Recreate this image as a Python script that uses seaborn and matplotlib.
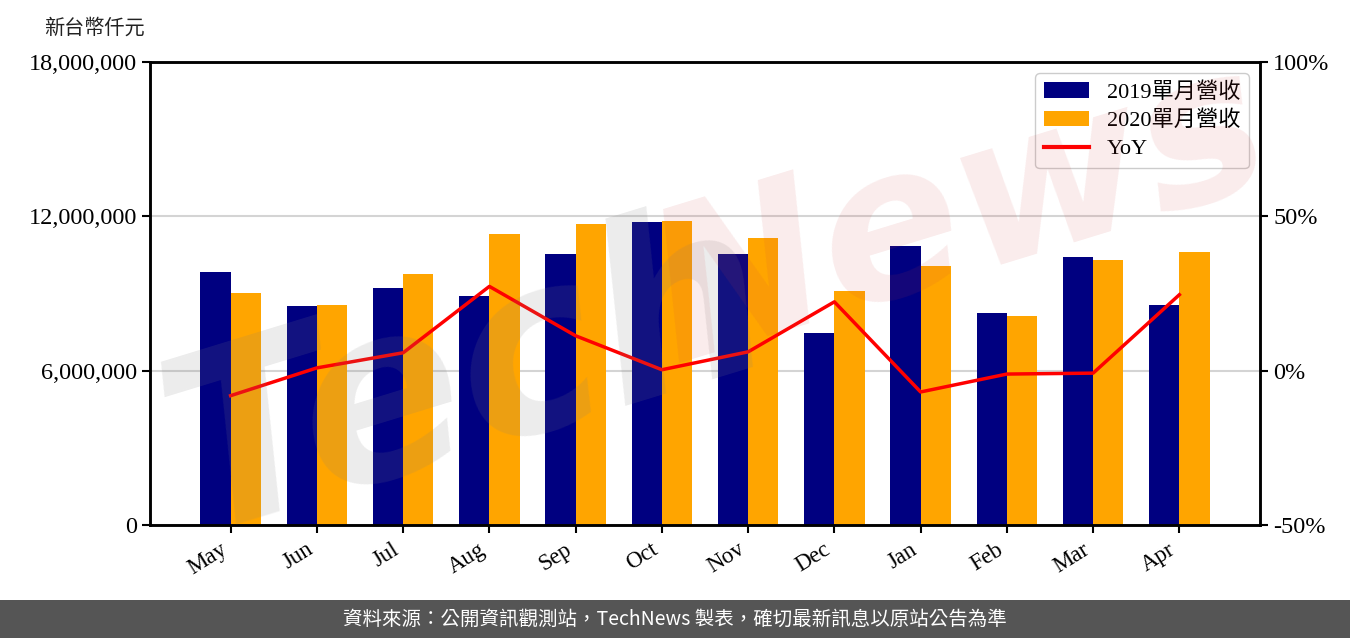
import numpy as np
import pandas as pd
import matplotlib
matplotlib.use("Agg")
import matplotlib.pyplot as plt
import seaborn as sns
from matplotlib.ticker import FuncFormatter, FixedLocator
from matplotlib.patches import Rectangle, Patch
from matplotlib.lines import Line2D

# ---------------- data ----------------
months = ["May", "Jun", "Jul", "Aug", "Sep", "Oct", "Nov", "Dec", "Jan", "Feb", "Mar", "Apr"]
rev_2019 = [9840000, 8510000, 9210000, 8900000, 10540000, 11780000,
            10540000, 7470000, 10850000, 8240000, 10420000, 8550000]
rev_2020 = [9010000, 8550000, 9760000, 11310000, 11700000, 11820000,
            11160000, 9100000, 10070000, 8130000, 10300000, 10610000]
yoy_pct = [-8.1, 0.9, 5.8, 27.3, 11.3, 0.3, 6.1, 22.3, -6.9, -1.1, -0.8, 24.6]
series_labels = ["2019單月營收", "2020單月營收"]
yoy_label = "YoY"
y_unit = "新台幣仟元"
left_ticks = [0, 6000000, 12000000, 18000000]
right_ticks = [-50, 0, 50, 100]
source_note = "資料來源：公開資訊觀測站，TechNews 製表，確切最新訊息以原站公告為準"

# ---------------- style ----------------
plt.rcParams['font.family'] = ['Liberation Serif', 'Noto Sans CJK TC', 'DejaVu Sans']
NAVY = "#000080"
ORANGE = "#FFA500"
W, H = 1350, 638

fig = plt.figure(figsize=(W / 100, H / 100), dpi=100)
ax = fig.add_axes([150 / W, 1 - 525 / H, 1110 / W, 463 / H])

df = pd.DataFrame({
    "month": months * 2,
    "rev": rev_2019 + rev_2020,
    "series": [series_labels[0]] * len(months) + [series_labels[1]] * len(months),
})
sns.barplot(data=df, x="month", y="rev", hue="series", order=months,
            hue_order=series_labels, palette=[NAVY, ORANGE], width=0.7,
            saturation=1, errorbar=None, linewidth=0, legend=False, ax=ax)

ax.set_xlim(-0.935, len(months) - 1 + 0.935)
ax.set_ylim(0, 18000000)
ax.yaxis.set_major_locator(FixedLocator(left_ticks))
ax.yaxis.set_major_formatter(FuncFormatter(lambda v, p: f"{int(v):,}"))
ax.grid(axis='y', color='#d4d4d4', linewidth=1.5)
ax.grid(axis='x', visible=False)
ax.set_axisbelow(True)
ax.set_xlabel("")
ax.set_ylabel("")
ax.set_facecolor("white")
for lab in ax.get_xticklabels():
    lab.set_rotation(32)
    lab.set_ha('right')
ax.tick_params(axis='both', direction='out', length=6, width=1.5, colors='black',
               labelsize=17.5)
ax.tick_params(axis='x', labelsize=16.5, pad=4)

# YoY line on secondary axis
ax2 = ax.twinx()
sns.lineplot(x=np.arange(len(months)), y=yoy_pct, color='red', linewidth=2.5, ax=ax2)
ax2.set_ylim(-50, 100)
ax2.yaxis.set_major_locator(FixedLocator(right_ticks))
ax2.yaxis.set_major_formatter(FuncFormatter(lambda v, p: f"{int(v)}%"))
ax2.tick_params(axis='y', direction='out', length=6, width=1.5, colors='black', labelsize=17.5)
ax2.set_ylabel("")

for a in (ax, ax2):
    for s in a.spines.values():
        s.set_color('black')
        s.set_linewidth(1.8)

handles = [Patch(facecolor=NAVY, edgecolor='none'),
           Patch(facecolor=ORANGE, edgecolor='none'),
           Line2D([0], [0], color='red', linewidth=3)]
leg = ax2.legend(handles, series_labels + [yoy_label], loc='upper right', fontsize=16,
                 frameon=True, fancybox=True, framealpha=1, edgecolor='#cccccc',
                 labelspacing=0.35)

# unit label
fig.text(44 / W, 1 - 28 / H, y_unit, ha='left', va='center', fontsize=14.5,
         family=['Noto Sans CJK TC'], color='#222222')

# watermark
fig.text(470 / W, 1 - 380 / H, "Tech", fontsize=175, fontweight='bold', style='italic',
         family=['DejaVu Sans'], color='#808080', alpha=0.15, rotation=17,
         ha='center', va='center', zorder=5)
fig.text(960 / W, 1 - 215 / H, "News", fontsize=150, fontweight='bold', style='italic',
         family=['DejaVu Sans'], color='#d04040', alpha=0.1, rotation=17,
         ha='center', va='center', zorder=5)

# footer
fig.patches.append(Rectangle((0, 0), 1, 38 / H, transform=fig.transFigure,
                             facecolor='#555555', edgecolor='none', zorder=0))
fig.text(0.5, 19 / H, source_note, ha='center', va='center', color='white',
         fontsize=14, family=['Noto Sans CJK TC', 'DejaVu Sans'])

fig.savefig("out.png", dpi=100, facecolor='white')
